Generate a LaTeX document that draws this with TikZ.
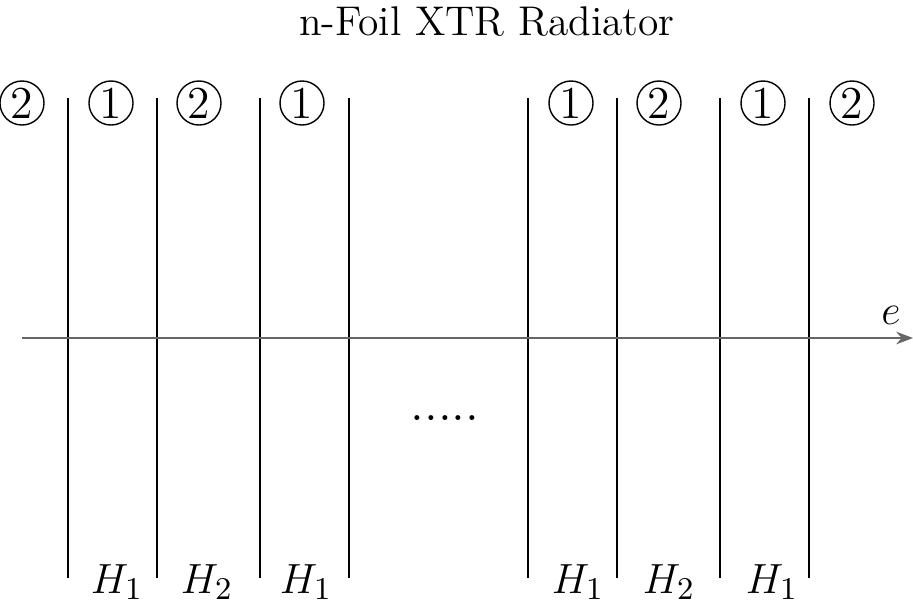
\documentclass[tikz,border=0pt]{standalone}
\usepackage{amsmath}
\usetikzlibrary{arrows.meta}

\tikzset{
  medium/.style={circle,draw,line width=0.4pt,inner sep=0pt,minimum size=0.44cm,font=\fontsize{13}{15}\selectfont},
  foil/.style={line width=0.8pt},
  gap/.style={font=\fontsize{13}{15}\selectfont,anchor=base},
}

\begin{document}
\begin{tikzpicture}[x=0.01cm,y=-0.01cm,>=Stealth]
        \useasboundingbox (0,0) rectangle (913,605);
        \node[font=\fontsize{11.8}{14}\selectfont,anchor=base] (title) at (487,35) {n-Foil XTR Radiator};
        % Foils
        \foreach \x in {68,157,260,349,528,617,720,809}
          \draw[foil] (\x,98) -- (\x,578);
        % Beam axis
        \coordinate (start) at (22,338);
        \coordinate (end) at (913,338);
        \draw[->,gray!80!black] (start) -- (end);
        \node[font=\fontsize{13}{15}\selectfont] (e) at (891,315) {$e$};
        % Media
        \foreach \x/\m [count=\i] in {22/2,111/1,199/2,302/1,571/1,659/2,763/1,852/2}
          \node[medium] (m\i) at (\x,103) {\m};
        % Gaps
        \foreach \x/\h [count=\i] in {117/1,207/2,306/1,578/1,669/2,772/1}
          \node[gap] (h\i) at (\x,593) {$H_\h$};
        \node[font=\Large] (dots) at (445,418) {.....};
      \end{tikzpicture}
\end{document}
